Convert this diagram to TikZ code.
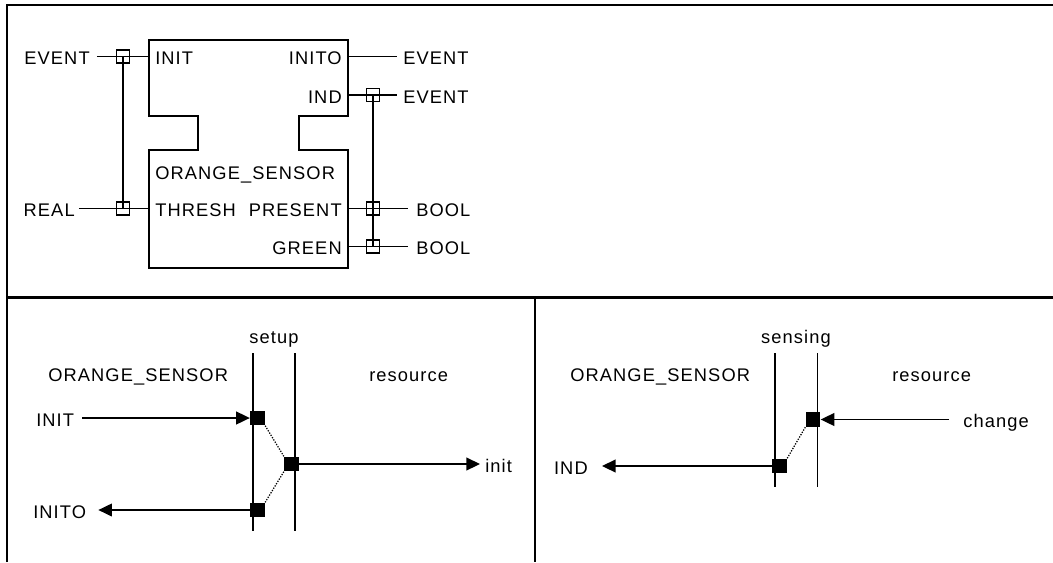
\documentclass[tikz,border=0pt]{standalone}
\usepackage{fontspec}
\setmainfont{Liberation Sans}[LetterSpace=6]
\usetikzlibrary{positioning,arrows.meta}

\tikzset{
  lbl/.style={font=\fontsize{13}{15}\selectfont, inner sep=0pt, text height=12pt, text depth=0pt},
  ext/.style={lbl, inner xsep=#1},
  ext/.default=0.15cm,
  wire/.style={line width=1pt},
  blk/.style={line width=1.2pt},
  jbox/.style={draw, line width=0.9pt, minimum size=0.32cm, inner sep=0pt},
  evt/.style={fill, minimum size=0.37cm, inner sep=0pt},
  life/.style={line width=1pt},
  link/.style={line width=0.9pt, densely dotted},
  frame/.style={line width=1.5pt}
}

\begin{document}
\begin{tikzpicture}[x=0.025cm, y=-0.025cm, >={Triangle[length=0.34cm,width=0.32cm]}]
  \useasboundingbox (0,0) rectangle (1053,562);

  % panel frame
  \draw[frame] (7,562) -- (7,5) -- (1053,5);
  \draw[frame] (7,297.5) -- (1053,297.5);
  \draw[frame] (535,297.5) -- (535,562);

  % function block
  \draw[blk] (149,40) -- (348,40) -- (348,116) -- (299,116) -- (299,150) -- (348,150)
    -- (348,268) -- (149,268) -- (149,150) -- (198,150) -- (198,116) -- (149,116) -- cycle;
  \node[lbl, anchor=west] (iINIT) at (155,56.5) {INIT};
  \node[lbl, anchor=east] (iINITO) at (342,56.5) {INITO};
  \node[lbl, anchor=east] (iIND) at (342,95) {IND};
  \node[lbl, anchor=west] (iName) at (155,171) {ORANGE\_SENSOR};
  \node[lbl, anchor=west] (iTHRESH) at (155,208.5) {THRESH};
  \node[lbl, anchor=east] (iPRESENT) at (342,208.5) {PRESENT};
  \node[lbl, anchor=east] (iGREEN) at (342,246.5) {GREEN};

  \coordinate (pINIT) at (149,56.5);
  \coordinate (pTHRESH) at (149,208.5);
  \coordinate (pINITO) at (348,56.5);
  \coordinate (pIND) at (348,95);
  \coordinate (pPRESENT) at (348,208.5);
  \coordinate (pGREEN) at (348,246.5);

  \node[jbox] (jINIT) at (123,56.5) {};
  \node[jbox] (jTHRESH) at (123,208.5) {};
  \node[jbox] (jIND) at (373,95) {};
  \node[jbox] (jPRESENT) at (373,208.5) {};
  \node[jbox] (jGREEN) at (373,246.5) {};

  \node[ext=0.175cm, left=0.65cm of jINIT.center] (tEvIn) {EVENT};
  \node[ext=0.1cm, left=1.1cm of jTHRESH.center] (tReal) {REAL};
  \node[ext, right=1.225cm of pINITO] (tEvOut1) {EVENT};
  \node[ext, right=0.6cm of jIND.center] (tEvOut2) {EVENT};
  \node[ext=0.2cm, right=0.875cm of jPRESENT.center] (tBool1) {BOOL};
  \node[ext=0.2cm, right=0.875cm of jGREEN.center] (tBool2) {BOOL};

  \draw[wire] (tEvIn.east) -- (jINIT.center) -- (pINIT);
  \draw[wire] (tReal.east) -- (jTHRESH.center) -- (pTHRESH);
  \draw[wire] (jINIT.center) -- (jTHRESH.center);
  \draw[wire] (pINITO) -- (tEvOut1.west);
  \draw[wire] (pIND) -- (jIND.center) -- (tEvOut2.west);
  \draw[wire] (pPRESENT) -- (jPRESENT.center) -- (tBool1.west);
  \draw[wire] (pGREEN) -- (jGREEN.center) -- (tBool2.west);
  \draw[wire] (jIND.center) -- (jGREEN.center);

  % setup sequence
  \node[lbl] (setupL) at (274,335) {setup};
  \node[lbl, anchor=west] (nameL) at (48,373) {ORANGE\_SENSOR};
  \node[lbl, anchor=west] (resL) at (369,373) {resource};
  \coordinate (sA1) at (253,353);
  \coordinate (sA2) at (253,531);
  \coordinate (sB1) at (295,353);
  \coordinate (sB2) at (295,531);
  \draw[life] (sA1) -- (sA2);
  \draw[life] (sB1) -- (sB2);

  \node[evt] (eInit) at (257.5,418) {};
  \node[evt] (eSetup) at (291.5,464) {};
  \node[evt] (eInito) at (257.5,510) {};
  \node[ext=0.2cm, anchor=west] (inINIT) at (28,418) {INIT};
  \node[ext=0.125cm, anchor=west] (outInit) at (480,464) {init};
  \node[ext=0.3cm, anchor=west] (outINITO) at (21,510) {INITO};

  \draw[wire, ->] (inINIT.east) -- (eInit.west);
  \draw[wire, ->] (eSetup.east) -- (outInit.west);
  \draw[wire, ->] (eInito.west) -- (outINITO.east);
  \draw[link] (eInit.south east) -- (eSetup.north west);
  \draw[link] (eSetup.south west) -- (eInito.north east);

  % sensing sequence
  \node[lbl] (sensL) at (796,335) {sensing};
  \node[lbl, anchor=west] (nameR) at (570,373) {ORANGE\_SENSOR};
  \node[lbl, anchor=west] (resR) at (892,373) {resource};
  \coordinate (rA1) at (775,353);
  \coordinate (rA2) at (775,487);
  \coordinate (rB1) at (817.5,353);
  \coordinate (rB2) at (817.5,487);
  \draw[life] (rA1) -- (rA2);
  \draw[life] (rB1) -- (rB2);

  \node[evt] (eChange) at (813,419.5) {};
  \node[evt] (eInd) at (779.5,466) {};
  \node[ext=0.35cm, anchor=west] (inChange) at (949,419.5) {change};
  \node[ext=0.35cm, anchor=east] (outInd) at (602,466) {IND};

  \draw[wire, ->] (inChange.west) -- (eChange.east);
  \draw[wire, ->] (eInd.west) -- (outInd.east);
  \draw[link] (eChange.south west) -- (eInd.north east);
\end{tikzpicture}
\end{document}
